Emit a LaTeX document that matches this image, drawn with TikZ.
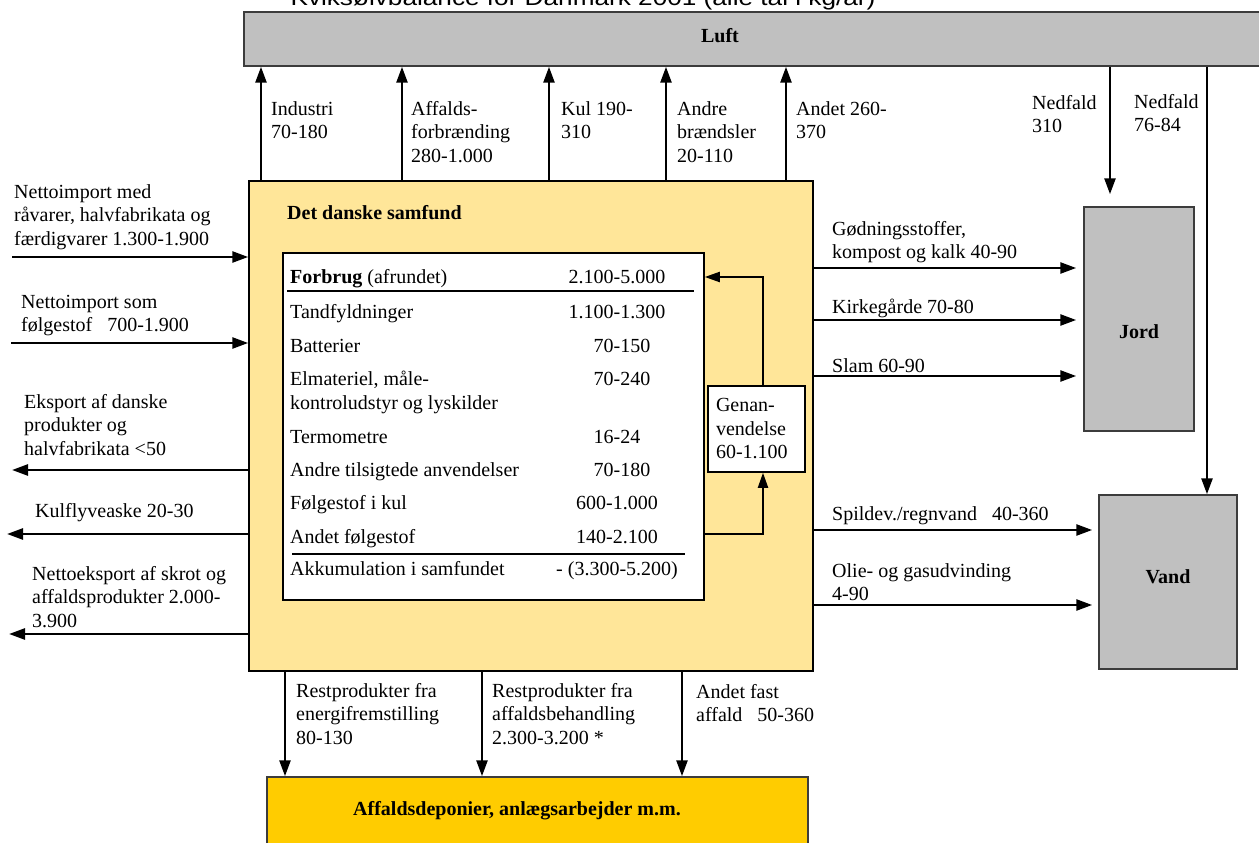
\documentclass[tikz,border=0pt]{standalone}
\usepackage{fontspec}
\setmainfont{Liberation Serif}
\setsansfont{Liberation Sans}
\usetikzlibrary{arrows.meta}
\definecolor{luftgray}{RGB}{192,192,192}
\definecolor{samfyellow}{RGB}{255,230,153}
\definecolor{depotyellow}{RGB}{255,204,0}
\definecolor{edgegray}{RGB}{60,60,60}
\newcommand{\figfs}{\fontsize{20}{23.5}\selectfont}
\begin{document}
\begin{tikzpicture}[x=1pt,y=-1pt,
  lbl/.style={anchor=north west, inner sep=0pt, align=left, font=\figfs},
  txt/.style={anchor=base west, inner sep=0pt, font=\figfs},
  val/.style={anchor=base, inner sep=0pt, font=\figfs},
  btxt/.style={anchor=base, inner sep=0pt, font=\figfs\bfseries},
  area/.style={draw=edgegray, line width=1.5pt, rectangle, inner sep=0pt},
  arr/.style={line width=2.6pt, -{Triangle[length=16pt,width=11pt]}},
  garr/.style={line width=2pt, -{Triangle[length=15pt,width=10pt]}},
  tabrule/.style={line width=1.5pt}]
\useasboundingbox (0,0) rectangle (1259,843);
\fill[white] (0,0) rectangle (1259,843);

% title (cut off at top)
\node (title) [anchor=base, inner sep=0pt, font=\sffamily\fontsize{22}{26}\selectfont] at (583,6) {\scalebox{1.19}[1]{Kviksølvbalance for Danmark 2001 (alle tal i kg/år)}};

% Luft
\node (luft) [area, fill=luftgray, minimum width=1025pt, minimum height=54pt] at (756.5,39) {};
\node (lufttxt) [btxt] at (720,43) {Luft};

% main box
\node (samf) [draw, line width=1.5pt, fill=samfyellow, minimum width=564pt, minimum height=490pt, inner sep=0pt] at (531,426) {};
\node (samftxt) [txt, font=\figfs\bfseries] at (287,219) {Det danske samfund};
\node (inner) [draw, line width=1.5pt, fill=white, minimum width=421pt, minimum height=347pt, inner sep=0pt] at (493.5,426.5) {};

% table
\node (r1) [txt] at (290,283) {\textbf{Forbrug} (afrundet)};
\node (v1) [val] at (617,283) {2.100-5.000};
\draw[tabrule] (287,291) -- (694,291);
\node (r2) [txt] at (290,318) {Tandfyldninger};
\node (v2) [val] at (617,318) {1.100-1.300};
\node (r3) [txt] at (290,352) {Batterier};
\node (v3) [val] at (622,352) {70-150};
\node (r4) [lbl] at (290,371) {Elmateriel, måle-\\kontroludstyr og lyskilder};
\node (v4) [val] at (622,385) {70-240};
\node (r5) [txt] at (290,443) {Termometre};
\node (v5) [val] at (617,443) {16-24};
\node (r6) [txt] at (290,476) {Andre tilsigtede anvendelser};
\node (v6) [val] at (622,476) {70-180};
\node (r7) [txt] at (290,509) {Følgestof i kul};
\node (v7) [val] at (617,509) {600-1.000};
\node (r8) [txt] at (290,543) {Andet følgestof};
\node (v8) [val] at (617,543) {140-2.100};
\draw[tabrule] (292,554) -- (685,554);
\node (r9) [txt] at (290,575) {Akkumulation i samfundet};
\node (v9) [val] at (617,575) {- (3.300-5.200)};

% Genanvendelse
\node (genan) [draw, line width=1.5pt, fill=white, minimum width=97pt, minimum height=86pt, text width=81pt, align=left, inner sep=0pt, font=\figfs] at (756.5,429) {Genan-\\vendelse\\60-1.100};
\draw[garr] ([xshift=6.5pt]genan.north) |- (inner.east |- 0,277);
\draw[garr] (inner.east |- 0,534) -| ([xshift=6.5pt]genan.south);

% Jord, Vand, Depot
\node (jord) [area, fill=luftgray, minimum width=110pt, minimum height=224pt] at (1139,319) {};
\node (jordtxt) [btxt] at (1139,338) {Jord};
\node (vand) [area, fill=luftgray, minimum width=138pt, minimum height=174pt] at (1168,582) {};
\node (vandtxt) [btxt] at (1168,583) {Vand};
\node (depot) [area, fill=depotyellow, minimum width=541pt, minimum height=100pt] at (537.5,827) {};
\node (depottxt) [btxt] at (517,815) {Affaldsdeponier, anlægsarbejder m.m.};

% top arrows to Luft
\foreach \x in {261,402,549,666,786}
  \draw[arr] (\x,0 |- samf.north) -- (\x,0 |- luft.south);
\node (lInd) [lbl] at (271,101) {Industri\\70-180};
\node (lAff) [lbl] at (411,101) {Affalds-\\forbrænding\\280-1.000};
\node (lKul) [lbl] at (561,101) {Kul 190-\\310};
\node (lAnd) [lbl] at (677,101) {Andre\\brændsler\\20-110};
\node (lAndet) [lbl] at (796,101) {Andet 260-\\370};

% Nedfald
\draw[arr, shorten >=12pt] (1110,0 |- luft.south) -- (1110,0 |- jord.north);
\draw[arr] (1207,0 |- luft.south) -- (1207,0 |- vand.north);
\node (lNed1) [lbl] at (1032,95) {Nedfald\\310};
\node (lNed2) [lbl] at (1134,94) {Nedfald\\76-84};

% right arrows
\draw[arr, shorten >=7pt] (samf.east |- 0,268) -- (jord.west |- 0,268);
\draw[arr, shorten >=7pt] (samf.east |- 0,320) -- (jord.west |- 0,320);
\draw[arr, shorten >=7pt] (samf.east |- 0,376) -- (jord.west |- 0,376);
\draw[arr, shorten >=6pt] (samf.east |- 0,530) -- (vand.west |- 0,530);
\draw[arr, shorten >=6pt] (samf.east |- 0,605) -- (vand.west |- 0,605);
\node (lGod) [lbl] at (832,221) {Gødningsstoffer,\\kompost og kalk 40-90};
\node (lKirk) [lbl] at (832,299) {Kirkegårde 70-80};
\node (lSlam) [lbl] at (832,358) {Slam 60-90};
\node (lSpild) [lbl] at (832,506) {Spildev./regnvand~~~40-360};
\node (lOlie) [lbl] at (832,563) {Olie- og gasudvinding\\4-90};

% left arrows
\coordinate (in1) at (12,257);
\coordinate (in2) at (11,343);
\coordinate (out1) at (12,470);
\coordinate (out2) at (7,534);
\coordinate (out3) at (9,634);
\draw[arr] (in1) -- (in1 -| samf.west);
\draw[arr] (in2) -- (in2 -| samf.west);
\draw[arr] (out1 -| samf.west) -- (out1);
\draw[arr] (out2 -| samf.west) -- (out2);
\draw[arr] (out3 -| samf.west) -- (out3);
\node (lImp1) [lbl] at (14,184) {Nettoimport med\\råvarer, halvfabrikata og\\færdigvarer 1.300-1.900};
\node (lImp2) [lbl] at (21,295) {Nettoimport som\\følgestof~~~700-1.900};
\node (lEks) [lbl] at (24,394) {Eksport af danske\\produkter og\\halvfabrikata <50};
\node (lKulf) [lbl] at (35,503) {Kulflyveaske 20-30};
\node (lNetto) [lbl] at (32,566) {Nettoeksport af skrot og\\affaldsprodukter 2.000-\\3.900};

% bottom arrows
\foreach \x in {285,482,682}
  \draw[arr] (\x,0 |- samf.south) -- (\x,0 |- depot.north);
\node (lRest1) [lbl] at (296,683) {Restprodukter fra\\energifremstilling\\80-130};
\node (lRest2) [lbl] at (492,683) {Restprodukter fra\\affaldsbehandling\\2.300-3.200 *};
\node (lAndF) [lbl] at (696,684) {Andet fast\\affald~~~50-360};
\end{tikzpicture}
\end{document}
